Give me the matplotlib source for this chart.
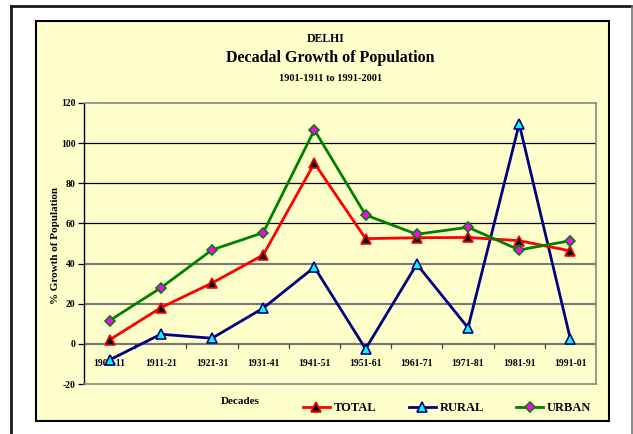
import matplotlib
matplotlib.use("Agg")
import matplotlib.pyplot as plt
from matplotlib.lines import Line2D
from matplotlib.patches import Rectangle

decades = ["1901-11", "1911-21", "1921-31", "1931-41", "1941-51",
           "1951-61", "1961-71", "1971-81", "1981-91", "1991-01"]
total = [2.0, 18.0, 30.3, 44.3, 90.0, 52.4, 52.9, 53.0, 51.4, 46.3]
rural = [-8.0, 4.8, 2.8, 17.8, 38.2, -2.5, 39.7, 8.0, 109.6, 2.3]
urban = [11.6, 27.9, 46.8, 55.4, 106.6, 64.2, 54.6, 58.1, 46.8, 51.4]
yticks = [-20, 0, 20, 40, 60, 80, 100, 120]

plt.rcParams['font.family'] = ['Liberation Serif', 'DejaVu Serif']
plt.rcParams['font.weight'] = 'bold'

W, H = 633, 434
fig = plt.figure(figsize=(W / 100, H / 100), dpi=100)
fig.patch.set_facecolor('white')

def fx(px):
    return px / W

def fy(py):
    return 1 - py / H

yellow = '#FFFFCC'
# outer frame
fig.add_artist(Line2D([fx(11), fx(11)], [fy(6), -0.05], color='#1a1a1a', lw=2.0))
fig.add_artist(Line2D([fx(11), fx(632)], [fy(6), fy(6)], color='#1a1a1a', lw=2.0))
fig.add_artist(Line2D([fx(631.5), fx(631.5)], [fy(6), -0.05], color='#777777', lw=1.2))
# chart area
fig.add_artist(Rectangle((fx(36), fy(421)), fx(609) - fx(36), fy(21) - fy(421),
                         transform=fig.transFigure, facecolor=yellow,
                         edgecolor='black', lw=1.5, zorder=0))

ax = fig.add_axes([fx(84), fy(384), fx(596) - fx(84), fy(103) - fy(384)])
ax.set_facecolor(yellow)
x = list(range(len(decades)))

for v in [60, 80, 100]:
    ax.axhline(v, color='black', lw=0.9, zorder=1)
for v in [20, 40]:
    ax.axhline(v, color='#777777', lw=1.5, zorder=1)
ax.axhline(0, color='#777777', lw=1.6, zorder=1)

ax.plot(x, total, color='red', lw=2, marker='^', markersize=7,
        markerfacecolor='black', markeredgecolor='red', markeredgewidth=1.2,
        zorder=4, label='TOTAL')
ax.plot(x, rural, color='#000080', lw=2, marker='^', markersize=7,
        markerfacecolor='#00FFFF', markeredgecolor='#000080', markeredgewidth=1.2,
        zorder=3, label='RURAL')
ax.plot(x, urban, color='#008000', lw=2, marker='D', markersize=5.5,
        markerfacecolor='#FF00FF', markeredgecolor='#008000', markeredgewidth=1.2,
        zorder=5, label='URBAN')

ax.set_xlim(-0.5, len(decades) - 0.5)
ax.set_ylim(yticks[0], yticks[-1])
ax.set_yticks(yticks)
ax.set_yticklabels([str(t) for t in yticks], fontsize=7, fontweight='bold')
ax.tick_params(axis='y', length=4, width=0.9, pad=2, color='black')

for s in ['top', 'right', 'bottom']:
    ax.spines[s].set_color('#888888')
    ax.spines[s].set_linewidth(1.2)
ax.spines['left'].set_color('black')
ax.spines['left'].set_linewidth(1.0)

# x ticks: boundaries on zero line, labels at categories
ax.set_xticks([])
for b in [i + 0.5 for i in x[:-1]]:
    ax.plot([b, b], [0, -2.2], color='#444444', lw=0.9, zorder=2, clip_on=False)
for i, lab in zip(x, decades):
    ax.annotate(lab, xy=(i, 0), xycoords='data', xytext=(0, -14),
                textcoords='offset points', ha='center', va='center',
                fontsize=7, fontweight='bold', zorder=2)

fig.text(fx(55), fy(245), '% Growth of Population', rotation=90, ha='center',
         va='center', fontsize=8, fontweight='bold')
fig.text(fx(240), fy(401), 'Decades', ha='center', va='center',
         fontsize=8, fontweight='bold')

fig.text(fx(326), fy(39), 'DELHI', ha='center', va='center', fontsize=8.5, fontweight='bold')
fig.text(fx(330), fy(58), 'Decadal Growth of Population', ha='center', va='center',
         fontsize=11.5, fontweight='bold')
fig.text(fx(331), fy(79), '1901-1911 to 1991-2001', ha='center', va='center',
         fontsize=7.5, fontweight='bold')

leg = fig.legend(loc='center left', bbox_to_anchor=(fx(303), fy(408)), ncol=3,
                 frameon=False, fontsize=9, handlelength=2.15, handletextpad=0.3,
                 columnspacing=2.6, borderpad=0, borderaxespad=0)
for t in leg.get_texts():
    t.set_fontweight('bold')

fig.savefig('out.png', dpi=100, facecolor='white')
